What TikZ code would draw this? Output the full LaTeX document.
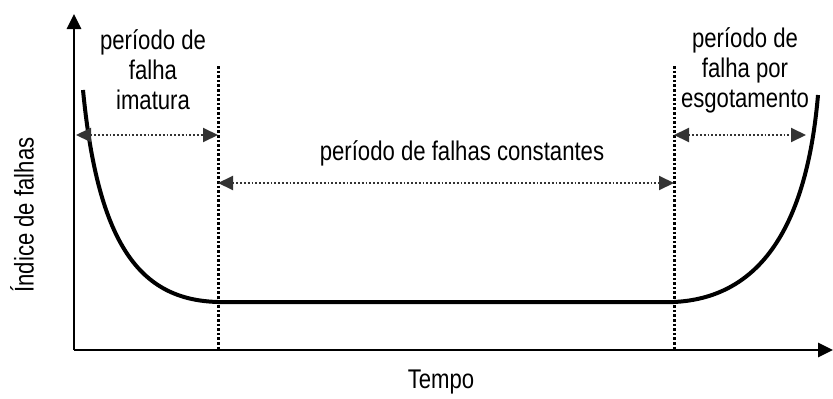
\documentclass[tikz,border=0pt]{standalone}
\usepackage{fontspec}
\setmainfont[FakeStretch=0.82]{Liberation Sans}
\usetikzlibrary{arrows.meta}

\begin{document}
\begin{tikzpicture}[
        x=1pt, y=-1pt,
        >={Triangle[length=15pt,width=14pt]},
        axis/.style={line width=2.8pt, ->},
        curva/.style={line width=4pt},
        limite/.style={line width=3pt, dash pattern=on 2.6pt off 2pt},
        faixa/.style={line width=2pt, dash pattern=on 1.8pt off 2pt, color=black!80, {Triangle[length=15pt,width=14pt]}-{Triangle[length=15pt,width=14pt]}},
        rotulo/.style={font=\fontsize{27}{30}\selectfont, align=center, inner sep=0pt}
        ]
        \useasboundingbox (0,0) rectangle (833,399);

        % eixos
        \coordinate (o) at (74,350);
        \coordinate (ytop) at (74,14);
        \coordinate (xend) at (833,350);
        \draw[axis] (o) -- (ytop);
        \draw[axis] (o) -- (xend);

        % limites dos periodos
        \coordinate (a1) at (218,66);
        \coordinate (a2) at (218,350);
        \coordinate (b1) at (674,66);
        \coordinate (b2) at (674,350);
        \draw[limite] (a1) -- (a2);
        \draw[limite] (b1) -- (b2);

        % curva da banheira
        \coordinate (c0) at (83,90);
        \coordinate (c1) at (218,302);
        \coordinate (c2) at (674,302);
        \coordinate (c3) at (818,95);
        \draw[curva] (c0) .. controls (98,245) and (140,300) .. (c1)
                     -- (c2) .. controls (755,298) and (806,235) .. (c3);

        % faixas
        \coordinate (f1) at (76,135);
        \coordinate (f2) at (218,135);
        \coordinate (g1) at (218,183);
        \coordinate (g2) at (674,183);
        \coordinate (h1) at (674,135);
        \coordinate (h2) at (806,135);
        \draw[faixa] (f1) -- (f2);
        \draw[faixa] (g1) -- (g2);
        \draw[faixa] (h1) -- (h2);

        % textos
        \node[rotulo] (t1) at (153,70) {período de\\falha\\imatura};
        \node[rotulo] (t2) at (462,153) {período de falhas constantes};
        \node[rotulo] (t3) at (745,70) {período de\\falha por\\esgotamento};
        \node[rotulo, rotate=90] (ylab) at (22,215) {Índice de falhas};
        \node[rotulo] (xlab) at (441,382) {Tempo};
\end{tikzpicture}
\end{document}
